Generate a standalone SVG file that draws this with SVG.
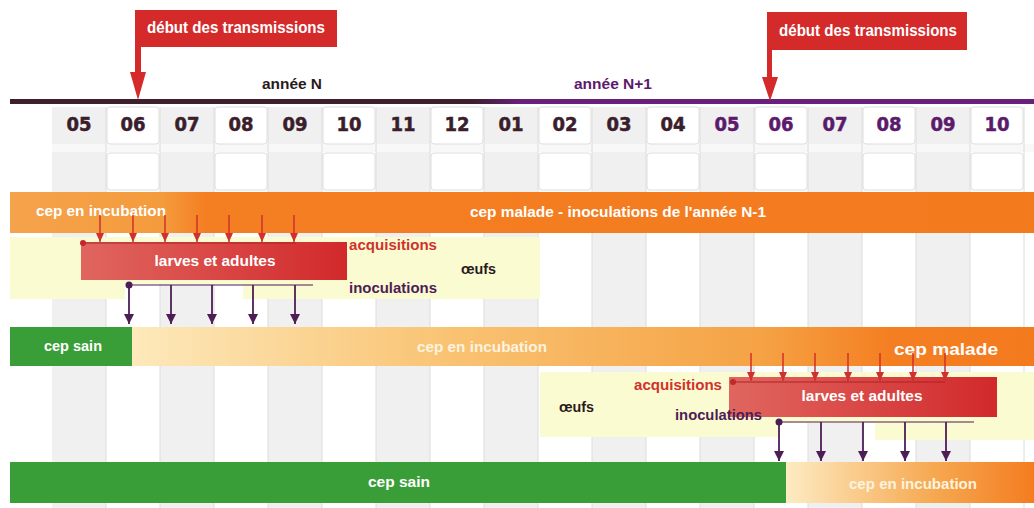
<svg xmlns="http://www.w3.org/2000/svg" width="1034" height="508" viewBox="0 0 1034 508">
<style>
text{font-family:"Liberation Sans Narrow","Liberation Sans",Arial,sans-serif;font-weight:bold}
.w{fill:#ffffff}
.mn,.mp{font-family:"DejaVu Sans Condensed","DejaVu Sans","Liberation Sans",sans-serif;font-size:20px;text-anchor:middle;stroke-width:0.5}
.mn{fill:#3b1e2b;stroke:#3b1e2b}
.mp{fill:#5b1a6b;stroke:#5b1a6b}
.lbl{font-size:15px}
.gc{fill:#f0f0f0}
.cell{fill:#ffffff;stroke:#dddddd;stroke-width:1}
.vl{stroke:#dcdcdc;stroke-width:1}
.ra{stroke:#d0312d;stroke-width:1.5;fill:none}
.pa{stroke:#4d1d55;stroke-width:1.8;fill:none}
.yb{fill:#fbfbd2}
</style>
<defs>
<marker id="mr" markerUnits="userSpaceOnUse" markerWidth="8" markerHeight="9" refX="9" refY="4" orient="auto"><path d="M0,0 L9,4 L0,8 z" fill="#d0312d"/></marker>
<marker id="mp" markerUnits="userSpaceOnUse" markerWidth="10" markerHeight="10" refX="10" refY="5" orient="auto"><path d="M0,0 L10,5 L0,10 z" fill="#4d1d55"/></marker>
<linearGradient id="tl" x1="0" x2="1" y1="0" y2="0"><stop offset="0" stop-color="#3d1f2d"/><stop offset="0.45" stop-color="#3d1f2d"/><stop offset="0.5" stop-color="#6b1f7d"/><stop offset="1" stop-color="#6b1f7d"/></linearGradient>
<linearGradient id="o1" gradientUnits="userSpaceOnUse" x1="10" x2="1034" y1="0" y2="0"><stop offset="0" stop-color="#f5a34c"/><stop offset="0.15" stop-color="#f49b3c"/><stop offset="0.19" stop-color="#f47f22"/><stop offset="1" stop-color="#f47a1e"/></linearGradient>
<linearGradient id="o2" gradientUnits="userSpaceOnUse" x1="132" x2="1034" y1="0" y2="0"><stop offset="0" stop-color="#fde9bb"/><stop offset="0.35" stop-color="#f9c373"/><stop offset="0.7" stop-color="#f5a244"/><stop offset="0.84" stop-color="#f47f22"/><stop offset="1" stop-color="#f47a1e"/></linearGradient>
<linearGradient id="o3" gradientUnits="userSpaceOnUse" x1="786" x2="1034" y1="0" y2="0"><stop offset="0" stop-color="#fdebc2"/><stop offset="0.6" stop-color="#f6a850"/><stop offset="1" stop-color="#f47c20"/></linearGradient>
<linearGradient id="rb" x1="0" x2="1" y1="0" y2="0"><stop offset="0" stop-color="#e06660"/><stop offset="1" stop-color="#d2292b"/></linearGradient>
</defs>

<g id="grid">
<rect class="gc" x="52" y="107" width="54" height="401"/>
<rect class="gc" x="160" y="107" width="54" height="401"/>
<rect class="gc" x="268" y="107" width="54" height="401"/>
<rect class="gc" x="376" y="107" width="54" height="401"/>
<rect class="gc" x="484" y="107" width="54" height="401"/>
<rect class="gc" x="592" y="107" width="54" height="401"/>
<rect class="gc" x="700" y="107" width="54" height="401"/>
<rect class="gc" x="808" y="107" width="54" height="401"/>
<rect class="gc" x="916" y="107" width="54" height="401"/>
<rect x="52" y="144" width="982" height="8" fill="#f8f8f8"/>
<g class="vl">
<line x1="106" y1="107" x2="106" y2="508"/><line x1="160" y1="107" x2="160" y2="508"/>
<line x1="214" y1="107" x2="214" y2="508"/><line x1="268" y1="107" x2="268" y2="508"/>
<line x1="322" y1="107" x2="322" y2="508"/><line x1="376" y1="107" x2="376" y2="508"/>
<line x1="430" y1="107" x2="430" y2="508"/><line x1="484" y1="107" x2="484" y2="508"/>
<line x1="538" y1="107" x2="538" y2="508"/><line x1="592" y1="107" x2="592" y2="508"/>
<line x1="646" y1="107" x2="646" y2="508"/><line x1="700" y1="107" x2="700" y2="508"/>
<line x1="754" y1="107" x2="754" y2="508"/><line x1="808" y1="107" x2="808" y2="508"/>
<line x1="862" y1="107" x2="862" y2="508"/><line x1="916" y1="107" x2="916" y2="508"/>
<line x1="970" y1="107" x2="970" y2="508"/><line x1="1024" y1="107" x2="1024" y2="508"/>
</g>
<g>
<rect class="cell" x="107" y="107" width="52" height="37" rx="3"/><rect class="cell" x="107" y="153" width="52" height="37" rx="3"/>
<rect class="cell" x="215" y="107" width="52" height="37" rx="3"/><rect class="cell" x="215" y="153" width="52" height="37" rx="3"/>
<rect class="cell" x="323" y="107" width="52" height="37" rx="3"/><rect class="cell" x="323" y="153" width="52" height="37" rx="3"/>
<rect class="cell" x="431" y="107" width="52" height="37" rx="3"/><rect class="cell" x="431" y="153" width="52" height="37" rx="3"/>
<rect class="cell" x="539" y="107" width="52" height="37" rx="3"/><rect class="cell" x="539" y="153" width="52" height="37" rx="3"/>
<rect class="cell" x="647" y="107" width="52" height="37" rx="3"/><rect class="cell" x="647" y="153" width="52" height="37" rx="3"/>
<rect class="cell" x="755" y="107" width="52" height="37" rx="3"/><rect class="cell" x="755" y="153" width="52" height="37" rx="3"/>
<rect class="cell" x="863" y="107" width="52" height="37" rx="3"/><rect class="cell" x="863" y="153" width="52" height="37" rx="3"/>
<rect class="cell" x="971" y="107" width="52" height="37" rx="3"/><rect class="cell" x="971" y="153" width="52" height="37" rx="3"/>
</g>
</g>

<g id="timeline">
<rect x="10" y="99" width="1024" height="5" fill="url(#tl)"/>
<text x="292" y="89" font-size="14" text-anchor="middle" fill="#2a1a20" textLength="60" lengthAdjust="spacingAndGlyphs">année N</text>
<text x="613" y="89" font-size="14" text-anchor="middle" fill="#5b1a6b" textLength="78" lengthAdjust="spacingAndGlyphs">année N+1</text>
</g>

<g id="months">
<text class="mn" x="79" y="131">05</text><text class="mn" x="133" y="131">06</text>
<text class="mn" x="187" y="131">07</text><text class="mn" x="241" y="131">08</text>
<text class="mn" x="295" y="131">09</text><text class="mn" x="349" y="131">10</text>
<text class="mn" x="403" y="131">11</text><text class="mn" x="457" y="131">12</text>
<text class="mn" x="511" y="131">01</text><text class="mn" x="565" y="131">02</text>
<text class="mn" x="619" y="131">03</text><text class="mn" x="673" y="131">04</text>
<text class="mp" x="727" y="131">05</text><text class="mp" x="781" y="131">06</text>
<text class="mp" x="835" y="131">07</text><text class="mp" x="889" y="131">08</text>
<text class="mp" x="943" y="131">09</text><text class="mp" x="997" y="131">10</text>
</g>

<g id="callout-1">
<path d="M135,10 H337 V47 H141 V72 H146 L138,100 L130,72 H135 Z" fill="#d42a2a"/>
<text class="w" x="236" y="33" font-size="16" text-anchor="middle" textLength="178" lengthAdjust="spacingAndGlyphs">début des transmissions</text>
</g>
<g id="callout-2">
<path d="M767,12 H967 V50 H772 V77 H778 L770,101 L762,77 H767 Z" fill="#d42a2a"/>
<text class="w" x="868" y="36" font-size="16" text-anchor="middle" textLength="178" lengthAdjust="spacingAndGlyphs">début des transmissions</text>
</g>

<g id="band-1">
<path class="yb" d="M10,237 H540 V299 H243 V284 H125 V299 H10 Z"/>
</g>
<g id="band-2">
<path class="yb" d="M540,372 H1034 V440 H875 V423 H778 V437 H540 Z"/>
</g>

<g id="bar-row1">
<rect x="10" y="192" width="1024" height="41" fill="url(#o1)"/>
<text class="w lbl" x="101" y="216" text-anchor="middle" textLength="130" lengthAdjust="spacingAndGlyphs">cep en incubation</text>
<text class="w lbl" x="618" y="217" text-anchor="middle" textLength="296" lengthAdjust="spacingAndGlyphs">cep malade - inoculations de l'année N-1</text>
</g>

<g id="vector-1">
<rect x="81" y="242" width="266" height="38" fill="url(#rb)"/>
<text class="w lbl" x="215" y="266" text-anchor="middle" textLength="121" lengthAdjust="spacingAndGlyphs">larves et adultes</text>
</g>
<g id="labels-1">
<text class="lbl" x="349" y="250" fill="#d0312d" textLength="88" lengthAdjust="spacingAndGlyphs">acquisitions</text>
<text class="lbl" x="461" y="274" fill="#2a1a20" textLength="35" lengthAdjust="spacingAndGlyphs">œufs</text>
<text class="lbl" x="349" y="293" fill="#4d1d55" textLength="88" lengthAdjust="spacingAndGlyphs">inoculations</text>
</g>

<g id="bar-row2">
<rect x="132" y="327" width="902" height="39" fill="url(#o2)"/>
<rect x="10" y="327" width="122" height="39" fill="#3a9e38"/>
<text class="w lbl" x="73" y="351" text-anchor="middle" textLength="58" lengthAdjust="spacingAndGlyphs">cep sain</text>
<text class="lbl" x="482" y="352" text-anchor="middle" fill="#fdf3df" textLength="130" lengthAdjust="spacingAndGlyphs">cep en incubation</text>
<text class="w" x="946" y="355" font-size="17" text-anchor="middle" textLength="104" lengthAdjust="spacingAndGlyphs">cep malade</text>
</g>

<g id="vector-2">
<rect x="729" y="377" width="268" height="40" fill="url(#rb)"/>
<text class="w lbl" x="862" y="401" text-anchor="middle" textLength="121" lengthAdjust="spacingAndGlyphs">larves et adultes</text>
</g>
<g id="labels-2">
<text class="lbl" x="722" y="390" text-anchor="end" fill="#d0312d" textLength="88" lengthAdjust="spacingAndGlyphs">acquisitions</text>
<text class="lbl" x="559" y="412" fill="#2a1a20" textLength="35" lengthAdjust="spacingAndGlyphs">œufs</text>
<text class="lbl" x="762" y="420" text-anchor="end" fill="#4d1d55" textLength="87" lengthAdjust="spacingAndGlyphs">inoculations</text>
</g>

<g id="bar-row3">
<rect x="786" y="462" width="248" height="41" fill="url(#o3)"/>
<rect x="10" y="462" width="776" height="41" fill="#3a9e38"/>
<text class="w lbl" x="399" y="487" text-anchor="middle" textLength="62" lengthAdjust="spacingAndGlyphs">cep sain</text>
<text class="lbl" x="913" y="489" text-anchor="middle" fill="#fdf3df" textLength="128" lengthAdjust="spacingAndGlyphs">cep en incubation</text>
</g>

<g id="connectors">
<line x1="83" y1="243" x2="296" y2="243" stroke="#b02025" stroke-width="1"/>
<circle cx="83" cy="243" r="3" fill="#c0282a"/>
<line class="ra" x1="100" y1="215" x2="100" y2="242" marker-end="url(#mr)"/>
<line class="ra" x1="133" y1="215" x2="133" y2="242" marker-end="url(#mr)"/>
<line class="ra" x1="165" y1="215" x2="165" y2="242" marker-end="url(#mr)"/>
<line class="ra" x1="197" y1="215" x2="197" y2="242" marker-end="url(#mr)"/>
<line class="ra" x1="229" y1="215" x2="229" y2="242" marker-end="url(#mr)"/>
<line class="ra" x1="262" y1="215" x2="262" y2="242" marker-end="url(#mr)"/>
<line class="ra" x1="294" y1="215" x2="294" y2="242" marker-end="url(#mr)"/>
<line x1="129" y1="285" x2="313" y2="285" stroke="#4d1d55" stroke-width="1.2"/>
<circle cx="129" cy="285" r="3.5" fill="#4d1d55"/>
<line class="pa" x1="129" y1="285" x2="129" y2="324" marker-end="url(#mp)"/>
<line class="pa" x1="171" y1="285" x2="171" y2="324" marker-end="url(#mp)"/>
<line class="pa" x1="212" y1="285" x2="212" y2="324" marker-end="url(#mp)"/>
<line class="pa" x1="253" y1="285" x2="253" y2="324" marker-end="url(#mp)"/>
<line class="pa" x1="295" y1="285" x2="295" y2="324" marker-end="url(#mp)"/>

<line x1="733" y1="382" x2="945" y2="382" stroke="#b02025" stroke-width="1"/>
<circle cx="733" cy="382" r="3" fill="#c0282a"/>
<line class="ra" x1="751" y1="353" x2="751" y2="381" marker-end="url(#mr)"/>
<line class="ra" x1="783" y1="353" x2="783" y2="381" marker-end="url(#mr)"/>
<line class="ra" x1="815" y1="353" x2="815" y2="381" marker-end="url(#mr)"/>
<line class="ra" x1="848" y1="353" x2="848" y2="381" marker-end="url(#mr)"/>
<line class="ra" x1="880" y1="353" x2="880" y2="381" marker-end="url(#mr)"/>
<line class="ra" x1="913" y1="353" x2="913" y2="381" marker-end="url(#mr)"/>
<line class="ra" x1="945" y1="353" x2="945" y2="381" marker-end="url(#mr)"/>
<line x1="779" y1="422" x2="974" y2="422" stroke="#4d1d55" stroke-width="1.2"/>
<circle cx="779" cy="422" r="3.5" fill="#4d1d55"/>
<line class="pa" x1="779" y1="422" x2="779" y2="461" marker-end="url(#mp)"/>
<line class="pa" x1="821" y1="422" x2="821" y2="461" marker-end="url(#mp)"/>
<line class="pa" x1="863" y1="422" x2="863" y2="461" marker-end="url(#mp)"/>
<line class="pa" x1="905" y1="422" x2="905" y2="461" marker-end="url(#mp)"/>
<line class="pa" x1="946" y1="422" x2="946" y2="461" marker-end="url(#mp)"/>
</g>
</svg>
